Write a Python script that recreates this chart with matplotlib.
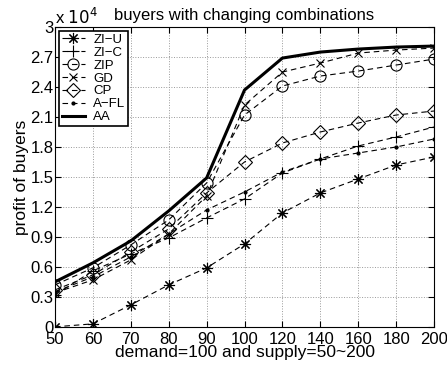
import numpy as np
import matplotlib.pyplot as plt

plt.rcParams['font.family'] = ['Liberation Sans', 'DejaVu Sans']

# supply values (plotted at equal spacing)
supply = [50, 60, 70, 80, 90, 100, 120, 140, 160, 180, 200]

# profit of buyers, in units of 1e4
zi_u = [0.00, 0.03, 0.22, 0.42, 0.59, 0.83, 1.14, 1.34, 1.48, 1.62, 1.70]
zi_c = [0.32, 0.56, 0.73, 0.89, 1.09, 1.28, 1.54, 1.68, 1.81, 1.90, 2.00]
zip_ = [0.42, 0.59, 0.82, 1.07, 1.44, 2.12, 2.41, 2.51, 2.56, 2.62, 2.68]
gd = [0.34, 0.47, 0.67, 0.93, 1.31, 2.22, 2.55, 2.64, 2.74, 2.77, 2.79]
cp = [0.37, 0.52, 0.75, 0.98, 1.34, 1.65, 1.84, 1.95, 2.04, 2.12, 2.16]
a_fl = [0.35, 0.50, 0.70, 0.93, 1.17, 1.35, 1.55, 1.68, 1.74, 1.80, 1.88]
aa = [0.45, 0.64, 0.86, 1.16, 1.49, 2.37, 2.69, 2.75, 2.78, 2.80, 2.81]

yticks = [0, 0.3, 0.6, 0.9, 1.2, 1.5, 1.8, 2.1, 2.4, 2.7, 3]
ytick_labels = ['0', '0.3', '0.6', '0.9', '1.2', '1.5', '1.8', '2.1', '2.4', '2.7', '3']

fig = plt.figure(figsize=(4.47, 3.71), dpi=100)
ax = fig.add_axes([0.123, 0.119, 0.848, 0.808])

x = np.arange(len(supply))
dash = (0, (5, 3.5))
kw = dict(color='k', linestyle=dash, linewidth=0.8, markerfacecolor='none',
          markeredgecolor='k', markeredgewidth=0.8)

ax.plot(x, zi_u, marker=(8, 2, 0), markersize=8, label='ZI\u2212U', **kw)
ax.plot(x, zi_c, marker='+', markersize=9, label='ZI\u2212C', **kw)
ax.plot(x, zip_, marker='o', markersize=8, label='ZIP', **kw)
ax.plot(x, gd, marker='x', markersize=6, label='GD', **kw)
ax.plot(x, cp, marker='D', markersize=7, label='CP', **kw)
ax.plot(x, a_fl, marker='.', markersize=4, label='A\u2212FL',
        color='k', linestyle=dash, linewidth=0.8)
ax.plot(x, aa, color='k', linewidth=2.2, label='AA')

ax.set_xlim(0, len(supply) - 1)
ax.set_ylim(0, 3)
ax.set_xticks(x)
ax.set_xticklabels([str(s) for s in supply])
ax.set_yticks(yticks)
ax.set_yticklabels(ytick_labels)
ax.tick_params(direction='in', top=True, right=True, labelsize=12, length=4)
ax.tick_params(axis='y', pad=1)
ax.tick_params(axis='x', pad=3.5)
ax.grid(True, linestyle=':', color='#999999', linewidth=0.7)

ax.set_xlabel('demand=100 and supply=50~200', fontsize=12.5, labelpad=-1)
ax.set_ylabel('profit of buyers', fontsize=12.5, labelpad=1)
ax.set_title('buyers with changing combinations', fontsize=12, pad=5)
ax.text(0.0, 1.0, r'x $10^4$', transform=ax.transAxes, fontsize=12,
        ha='left', va='bottom')

leg = ax.legend(loc='upper left', fontsize=9.5, frameon=True, fancybox=False,
                edgecolor='k', framealpha=1, handlelength=1.8, borderpad=0.2,
                labelspacing=0.05, handletextpad=0.6, borderaxespad=0.3)
leg.get_frame().set_linewidth(1.2)

fig.savefig('out.png', dpi=100)
